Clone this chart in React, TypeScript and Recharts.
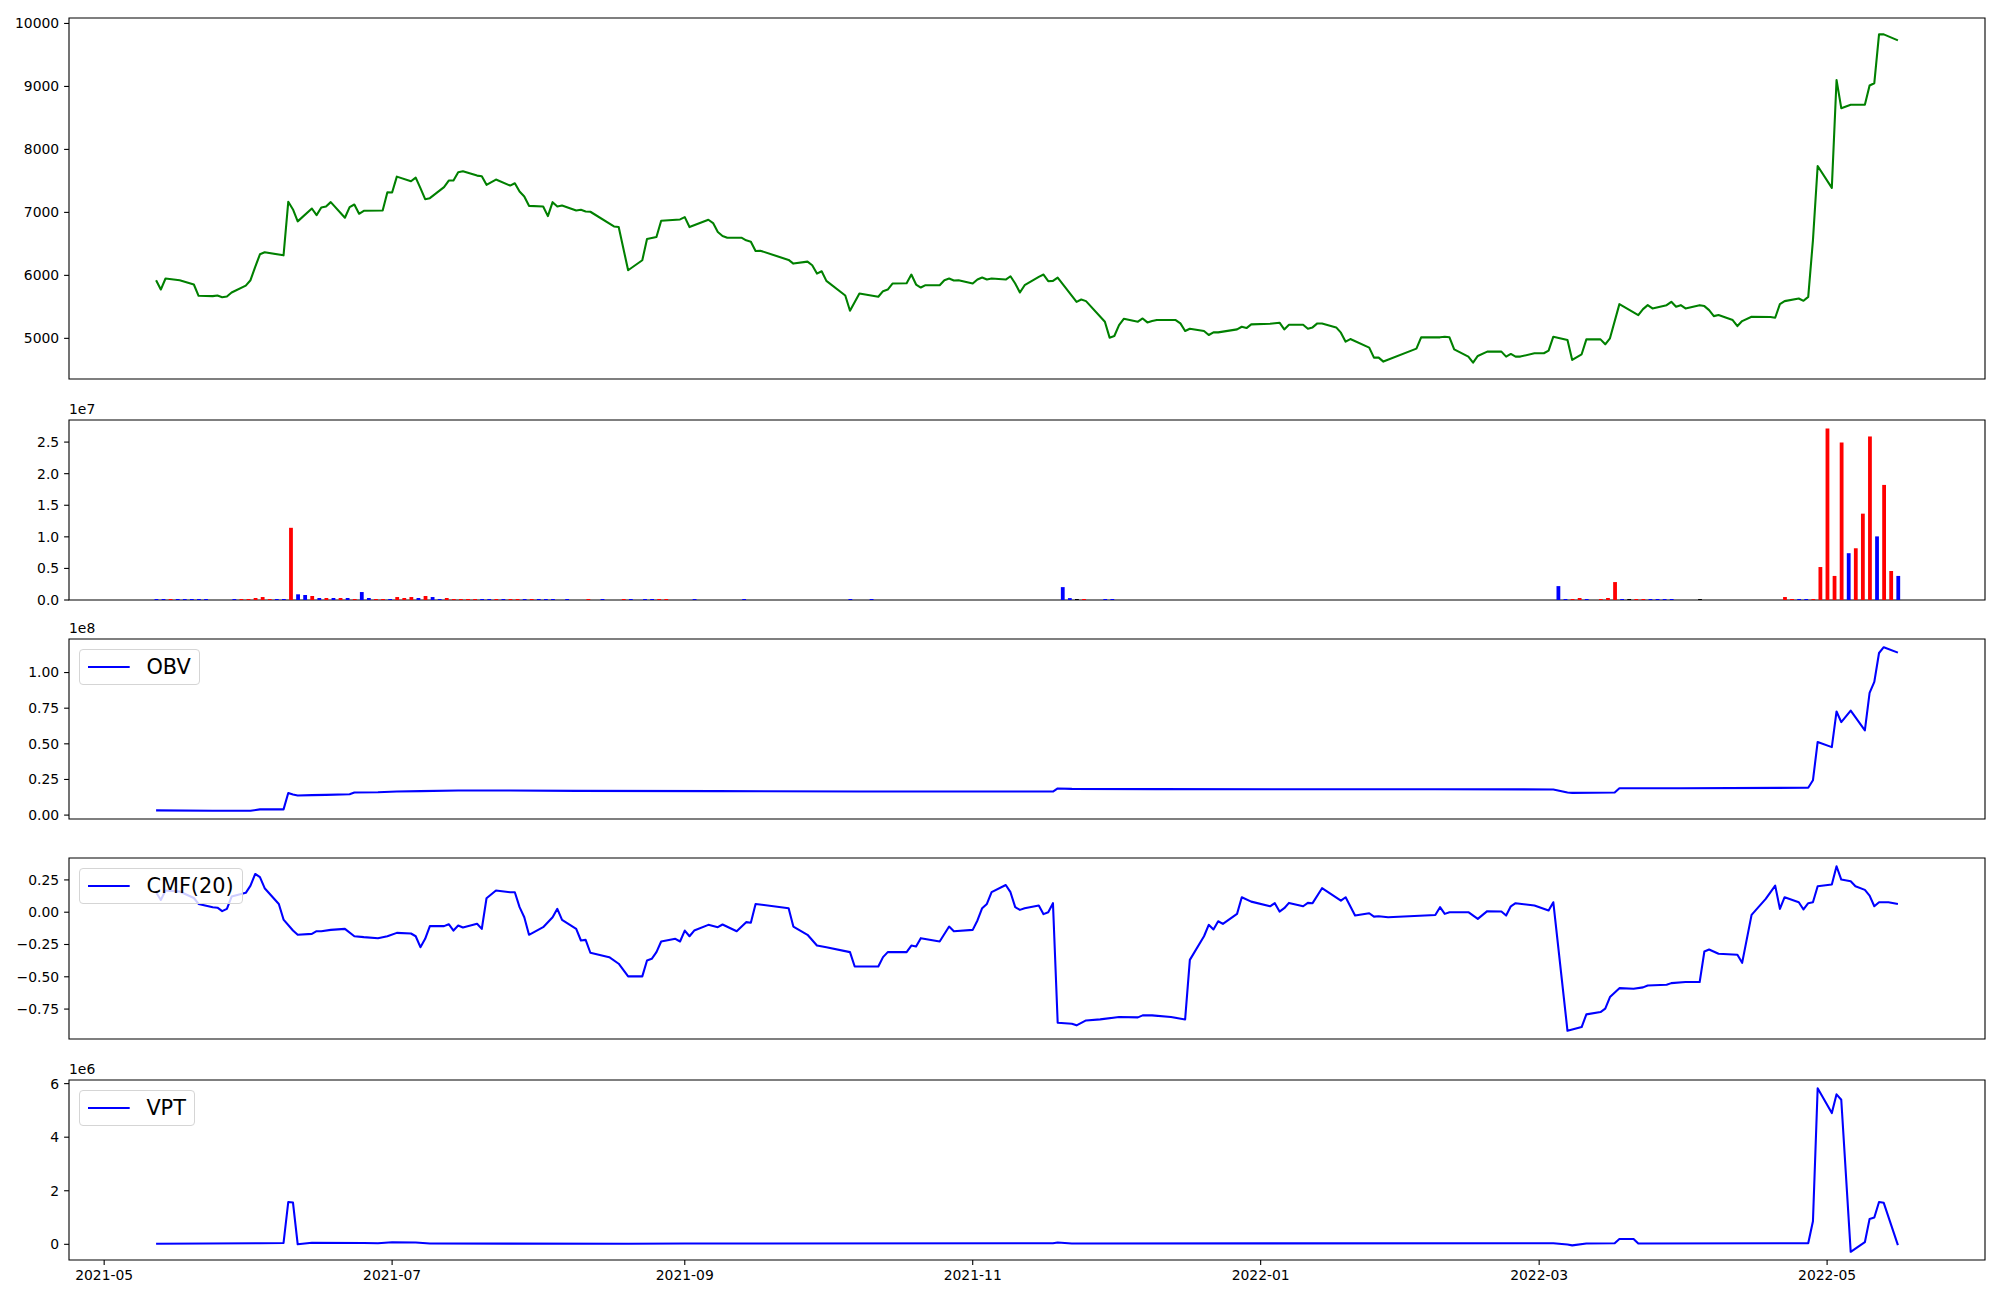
import React from 'react';
import { LineChart, Line, BarChart, Bar, Cell, XAxis, YAxis, Legend, ReferenceArea } from 'recharts';

const FONT = "'DejaVu Sans', 'Liberation Sans', sans-serif";

// ---------------- x axis ticks ----------------
const monthTickLabels = ['2021-05', '2021-07', '2021-09', '2021-11', '2022-01', '2022-03', '2022-05'];

// ---------------- price (close) ----------------
const priceDates = [
  '2021-05-12','2021-05-13','2021-05-14','2021-05-17','2021-05-20','2021-05-21','2021-05-24','2021-05-25','2021-05-26','2021-05-27','2021-05-28','2021-05-31',
  '2021-06-01','2021-06-02','2021-06-03','2021-06-04','2021-06-08','2021-06-09','2021-06-10','2021-06-11','2021-06-14','2021-06-15','2021-06-16','2021-06-17','2021-06-18','2021-06-21','2021-06-22','2021-06-23','2021-06-24','2021-06-25','2021-06-29','2021-06-30',
  '2021-07-01','2021-07-02','2021-07-05','2021-07-06','2021-07-07','2021-07-08','2021-07-09','2021-07-12','2021-07-13','2021-07-14','2021-07-15','2021-07-16','2021-07-19','2021-07-20','2021-07-21','2021-07-23','2021-07-26','2021-07-27','2021-07-28','2021-07-29','2021-07-30',
  '2021-08-02','2021-08-03','2021-08-04','2021-08-05','2021-08-06','2021-08-09','2021-08-10','2021-08-11','2021-08-12','2021-08-17','2021-08-18','2021-08-20','2021-08-23','2021-08-24','2021-08-26','2021-08-27','2021-08-31',
  '2021-09-01','2021-09-02','2021-09-06','2021-09-07','2021-09-08','2021-09-09','2021-09-10','2021-09-13','2021-09-14','2021-09-15','2021-09-16','2021-09-17','2021-09-23','2021-09-24','2021-09-27','2021-09-28','2021-09-29','2021-09-30',
  '2021-10-01','2021-10-05','2021-10-06','2021-10-08','2021-10-12','2021-10-13','2021-10-14','2021-10-15','2021-10-18','2021-10-19','2021-10-20','2021-10-21','2021-10-22','2021-10-25','2021-10-26','2021-10-27','2021-10-28','2021-10-29',
  '2021-11-01','2021-11-02','2021-11-03','2021-11-04','2021-11-05','2021-11-08','2021-11-09','2021-11-10','2021-11-11','2021-11-12','2021-11-15','2021-11-16','2021-11-17','2021-11-18','2021-11-19','2021-11-23','2021-11-24','2021-11-25','2021-11-29','2021-11-30',
  '2021-12-01','2021-12-02','2021-12-03','2021-12-06','2021-12-07','2021-12-08','2021-12-09','2021-12-10','2021-12-14','2021-12-15','2021-12-16','2021-12-17','2021-12-20','2021-12-21','2021-12-22','2021-12-23','2021-12-27','2021-12-28','2021-12-29','2021-12-30',
  '2022-01-03','2022-01-05','2022-01-06','2022-01-07','2022-01-10','2022-01-11','2022-01-12','2022-01-13','2022-01-14','2022-01-17','2022-01-18','2022-01-19','2022-01-20','2022-01-24','2022-01-25','2022-01-26','2022-01-27',
  '2022-02-03','2022-02-04','2022-02-08','2022-02-09','2022-02-10','2022-02-11','2022-02-14','2022-02-15','2022-02-16','2022-02-18','2022-02-21','2022-02-22','2022-02-23','2022-02-24','2022-02-25','2022-02-28',
  '2022-03-02','2022-03-03','2022-03-04','2022-03-07','2022-03-08','2022-03-10','2022-03-11','2022-03-14','2022-03-15','2022-03-16','2022-03-18','2022-03-22','2022-03-23','2022-03-24','2022-03-25','2022-03-28','2022-03-29','2022-03-30','2022-03-31',
  '2022-04-01','2022-04-04','2022-04-05','2022-04-06','2022-04-07','2022-04-08','2022-04-11','2022-04-12','2022-04-13','2022-04-15','2022-04-19','2022-04-20','2022-04-21','2022-04-22','2022-04-25','2022-04-26','2022-04-27','2022-04-28','2022-04-29',
  '2022-05-02','2022-05-03','2022-05-04','2022-05-06','2022-05-09','2022-05-10','2022-05-11','2022-05-12','2022-05-13','2022-05-16',
];
const priceValues = [
  5923,5775,5950,5923,5855,5675,5670,5680,5654,5665,5728,5838,
  5923,6134,6334,6366,6318,7168,7046,6857,7062,6957,7078,7094,7163,6915,7083,7125,6978,7025,7030,7321,
  7315,7568,7495,7553,7384,7210,7226,7400,7505,7505,7637,7653,7584,7574,7437,7521,7426,7463,7331,7252,7104,
  7094,6941,7162,7094,7110,7030,7041,7015,7010,6777,6767,6081,6240,6577,6609,6867,6888,
  6925,6767,6883,6830,6688,6625,6598,6598,6556,6535,6387,6392,6245,6187,6218,6160,6028,6065,
  5912,5680,5438,5712,5660,5749,5775,5870,5876,6013,5854,5807,5844,5844,5923,5949,5918,5923,
  5870,5934,5965,5934,5949,5934,5986,5870,5728,5844,5976,6013,5907,5912,5965,5580,5617,5591,5264,5011,
  5037,5211,5311,5264,5316,5253,5274,5290,5290,5237,5116,5153,5116,5053,5095,5095,5142,5184,5163,5222,
  5232,5248,5142,5216,5216,5153,5174,5237,5237,5174,5090,4947,4989,4852,4694,4694,4631,
  4837,5016,5016,5026,5016,4826,4710,4615,4720,4789,4789,4710,4752,4710,4710,4763,
  4763,4805,5026,4974,4657,4747,4984,4984,4905,5000,5543,5369,5464,5527,5475,5527,5580,5501,5527,
  5475,5527,5512,5448,5353,5369,5290,5195,5274,5343,5338,5327,5543,5591,5633,5596,5659,6556,7737,
  7389,9103,8655,8708,8708,9014,9051,9826,9826,9731,
];
const priceTicks = [5000, 6000, 7000, 8000, 9000, 10000];
const priceTickLabels = ['5000', '6000', '7000', '8000', '9000', '10000'];

// ---------------- volume ----------------
// The volume bars sit on an evenly spaced grid of sessions that runs from the first to the last date.
const volumeSlotCount = 247;
const volumeSlots = [
  0,1,2,3,4,5,6,7,
  11,12,13,14,15,16,17,18,19,20,21,
  22,23,24,25,26,27,28,29,30,31,
  32,33,34,35,36,37,38,39,40,41,
  42,43,44,45,46,47,48,49,50,51,
  52,53,54,55,56,
  58,61,63,66,67,69,70,71,72,76,83,98,101,
  128,129,130,131,134,135,
  198,199,200,201,202,204,205,206,207,208,209,210,211,212,213,214,218,
  230,231,232,233,234,235,236,237,238,239,240,241,242,243,244,245,246,
];
const volumeValues = [
  1.6e5,1.6e5,1.6e5,1.6e5,1.6e5,1.6e5,1.6e5,1.6e5,
  1.6e5,1.6e5,1.6e5,3.2e5,4.7e5,1.6e5,1.6e5,1.6e5,1.143e7,9.0e5,7.9e5,
  6.3e5,3.2e5,3.2e5,3.2e5,3.2e5,3.2e5,1.6e5,1.26e6,3.2e5,1.6e5,
  1.6e5,1.6e5,4.7e5,3.2e5,4.7e5,3.2e5,6.3e5,4.7e5,1.6e5,3.2e5,
  1.6e5,1.6e5,1.6e5,1.6e5,1.6e5,1.6e5,1.6e5,1.6e5,1.6e5,1.6e5,
  1.6e5,1.6e5,1.6e5,1.6e5,1.6e5,
  1.6e5,1.6e5,1.6e5,1.6e5,1.6e5,1.6e5,1.6e5,1.6e5,1.6e5,1.6e5,1.6e5,1.6e5,1.6e5,
  2.04e6,3.0e5,1.6e5,1.6e5,1.6e5,1.6e5,
  2.2e6,1.6e5,1.6e5,3.2e5,1.6e5,1.6e5,3.2e5,2.84e6,1.6e5,1.6e5,1.6e5,1.6e5,1.6e5,1.6e5,1.6e5,1.6e5,1.6e5,
  4.7e5,1.6e5,1.6e5,1.6e5,1.6e5,5.22e6,2.714e7,3.81e6,2.495e7,7.41e6,8.19e6,1.367e7,2.589e7,1.007e7,1.822e7,4.59e6,3.81e6,
];
// 1 = up session (red), -1 = down session (blue), 0 = unchanged (black)
const volumeDirection = [
  -1,-1,1,-1,-1,-1,-1,-1,
  -1,1,1,1,1,1,-1,-1,1,-1,-1,
  1,-1,1,-1,1,-1,1,-1,-1,1,
  1,-1,1,1,1,-1,1,-1,-1,1,
  1,1,1,1,-1,-1,1,-1,1,1,
  -1,1,-1,-1,-1,
  -1,1,-1,1,-1,-1,-1,1,1,-1,-1,-1,-1,
  -1,-1,0,1,-1,-1,
  -1,-1,1,1,-1,1,1,1,-1,0,1,1,-1,-1,-1,-1,0,
  1,1,-1,-1,1,1,1,1,1,-1,1,1,1,-1,1,1,-1,
];
const volumeTicks = [0, 5e6, 1e7, 1.5e7, 2e7, 2.5e7];
const volumeTickLabels = ['0.0', '0.5', '1.0', '1.5', '2.0', '2.5'];

// ---------------- OBV ----------------
const obvDates = [
  '2021-05-12','2021-05-24','2021-06-01','2021-06-03','2021-06-08','2021-06-09','2021-06-10','2021-06-11','2021-06-14','2021-06-17','2021-06-22','2021-06-23',
  '2021-06-28','2021-07-02','2021-07-07','2021-07-15','2021-07-26','2021-08-09','2021-09-08','2021-10-08','2021-11-18','2021-11-19','2021-11-22','2021-12-10',
  '2022-02-07','2022-03-04','2022-03-07','2022-03-08','2022-03-17','2022-03-18','2022-03-31','2022-04-27','2022-04-28','2022-04-29',
  '2022-05-02','2022-05-03','2022-05-04','2022-05-06','2022-05-09','2022-05-10','2022-05-11','2022-05-12','2022-05-13','2022-05-16',
];
const obvValues = [
  3.3e6,3.0e6,3.0e6,4.0e6,4.0e6,1.55e7,1.45e7,1.38e7,1.40e7,1.42e7,1.46e7,1.58e7,
  1.60e7,1.65e7,1.68e7,1.72e7,1.72e7,1.70e7,1.68e7,1.65e7,1.65e7,1.87e7,1.84e7,1.82e7,
  1.81e7,1.80e7,1.58e7,1.56e7,1.58e7,1.88e7,1.88e7,1.92e7,2.44e7,5.13e7,
  4.77e7,7.27e7,6.52e7,7.33e7,5.95e7,8.58e7,9.35e7,1.137e8,1.178e8,1.140e8,
];
const obvTicks = [0, 2.5e7, 5e7, 7.5e7, 1e8];
const obvTickLabels = ['0.00', '0.25', '0.50', '0.75', '1.00'];

// ---------------- CMF(20) ----------------
const cmfDates = [
  '2021-05-12','2021-05-13','2021-05-14','2021-05-17','2021-05-20','2021-05-21','2021-05-24','2021-05-25','2021-05-26','2021-05-27','2021-05-28','2021-05-31',
  '2021-06-01','2021-06-02','2021-06-03','2021-06-04','2021-06-07','2021-06-08','2021-06-10','2021-06-11','2021-06-14','2021-06-15','2021-06-16','2021-06-18','2021-06-21','2021-06-23','2021-06-25','2021-06-28','2021-06-30',
  '2021-07-02','2021-07-05','2021-07-06','2021-07-07','2021-07-08','2021-07-09','2021-07-12','2021-07-13','2021-07-14','2021-07-15','2021-07-16','2021-07-19','2021-07-20','2021-07-21','2021-07-23','2021-07-26','2021-07-27','2021-07-28','2021-07-29','2021-07-30',
  '2021-08-02','2021-08-04','2021-08-05','2021-08-06','2021-08-09','2021-08-10','2021-08-11','2021-08-12','2021-08-16','2021-08-18','2021-08-20','2021-08-23','2021-08-24','2021-08-25','2021-08-26','2021-08-27','2021-08-30','2021-08-31',
  '2021-09-01','2021-09-02','2021-09-03','2021-09-06','2021-09-08','2021-09-09','2021-09-12','2021-09-14','2021-09-15','2021-09-16','2021-09-23','2021-09-24','2021-09-27','2021-09-29',
  '2021-10-01','2021-10-06','2021-10-07','2021-10-12','2021-10-13','2021-10-14','2021-10-18','2021-10-19','2021-10-20','2021-10-21','2021-10-25','2021-10-27','2021-10-28',
  '2021-11-01','2021-11-02','2021-11-03','2021-11-04','2021-11-05','2021-11-08','2021-11-09','2021-11-10','2021-11-11','2021-11-12','2021-11-15','2021-11-16','2021-11-17','2021-11-18','2021-11-19','2021-11-22','2021-11-23','2021-11-25','2021-11-28',
  '2021-12-02','2021-12-06','2021-12-07','2021-12-09','2021-12-13','2021-12-16','2021-12-17','2021-12-20','2021-12-21','2021-12-22','2021-12-23','2021-12-24','2021-12-27','2021-12-28','2021-12-30',
  '2022-01-03','2022-01-04','2022-01-05','2022-01-06','2022-01-07','2022-01-10','2022-01-11','2022-01-12','2022-01-14','2022-01-18','2022-01-19','2022-01-21','2022-01-24','2022-01-25','2022-01-26','2022-01-28',
  '2022-02-07','2022-02-08','2022-02-09','2022-02-10','2022-02-14','2022-02-16','2022-02-18','2022-02-21','2022-02-22','2022-02-23','2022-02-24','2022-02-28',
  '2022-03-03','2022-03-04','2022-03-07','2022-03-10','2022-03-11','2022-03-14','2022-03-15','2022-03-16','2022-03-18','2022-03-21','2022-03-23','2022-03-24','2022-03-28','2022-03-29',
  '2022-04-01','2022-04-04','2022-04-05','2022-04-06','2022-04-08','2022-04-12','2022-04-13','2022-04-15','2022-04-18','2022-04-20','2022-04-21','2022-04-22','2022-04-25','2022-04-26','2022-04-27','2022-04-28','2022-04-29',
  '2022-05-02','2022-05-03','2022-05-04','2022-05-06','2022-05-07','2022-05-09','2022-05-10','2022-05-11','2022-05-12','2022-05-14','2022-05-16',
];
const cmfValues = [
  0.155,0.095,0.168,0.160,0.110,0.064,0.039,0.035,0.008,0.026,0.121,0.150,
  0.206,0.296,0.271,0.186,0.064,-0.057,-0.142,-0.175,-0.168,-0.147,-0.147,-0.137,-0.129,-0.186,-0.193,-0.201,-0.186,
  -0.160,-0.165,-0.186,-0.271,-0.206,-0.108,-0.108,-0.093,-0.142,-0.103,-0.119,-0.090,-0.129,0.108,0.168,0.155,0.155,0.039,-0.039,-0.175,
  -0.116,-0.039,0.026,-0.059,-0.129,-0.219,-0.214,-0.314,-0.348,-0.399,-0.497,-0.497,-0.374,-0.361,-0.309,-0.227,-0.206,-0.227,
  -0.142,-0.186,-0.142,-0.098,-0.116,-0.095,-0.147,-0.077,-0.082,0.064,0.031,-0.111,-0.175,-0.258,
  -0.271,-0.309,-0.420,-0.420,-0.348,-0.309,-0.309,-0.258,-0.265,-0.201,-0.227,-0.111,-0.147,
  -0.137,-0.064,0.031,0.064,0.155,0.211,0.155,0.039,0.018,0.030,0.052,-0.015,0.000,0.070,-0.856,-0.863,-0.876,-0.838,-0.830,
  -0.812,-0.814,-0.799,-0.799,-0.812,-0.830,-0.369,-0.186,-0.098,-0.134,-0.070,-0.090,-0.013,0.116,0.082,
  0.046,0.070,0.005,0.031,0.072,0.046,0.072,0.070,0.186,0.090,0.116,-0.026,-0.008,-0.034,-0.031,-0.039,
  -0.021,0.039,-0.013,0.000,0.000,-0.052,0.008,0.005,-0.026,0.046,0.070,0.052,
  0.013,0.077,-0.918,-0.889,-0.791,-0.773,-0.747,-0.657,-0.588,-0.593,-0.582,-0.567,-0.562,-0.549,
  -0.541,-0.541,-0.304,-0.289,-0.322,-0.330,-0.392,-0.021,0.103,0.206,0.026,0.116,0.077,0.021,0.070,0.077,0.201,
  0.214,0.356,0.253,0.240,0.201,0.173,0.129,0.046,0.077,0.077,0.064,
];
const cmfTicks = [-0.75, -0.5, -0.25, 0, 0.25];
const cmfTickLabels = ['\u22120.75', '\u22120.50', '\u22120.25', '0.00', '0.25'];

// ---------------- VPT ----------------
const vptDates = [
  '2021-05-12','2021-06-03','2021-06-08','2021-06-09','2021-06-10','2021-06-11','2021-06-14','2021-06-25','2021-06-28','2021-07-01','2021-07-06','2021-07-09',
  '2021-08-20','2021-09-01','2021-11-18','2021-11-19','2021-11-22','2022-03-04','2022-03-07','2022-03-08','2022-03-11','2022-03-17','2022-03-18','2022-03-21','2022-03-22',
  '2022-04-27','2022-04-28','2022-04-29','2022-05-02','2022-05-03','2022-05-04','2022-05-06','2022-05-09','2022-05-10','2022-05-11','2022-05-12','2022-05-13','2022-05-16',
];
const vptValues = [
  2e4,4e4,5e4,1.58e6,1.56e6,0,6e4,5e4,4e4,8e4,7e4,3e4,
  2e4,3e4,4e4,7e4,3e4,4e4,-1e4,-4e4,3e4,4e4,2.0e5,2.0e5,3e4,
  4e4,8.6e5,5.83e6,4.90e6,5.60e6,5.40e6,-2.8e5,8e4,9.5e5,1.0e6,1.58e6,1.55e6,-3e4,
];
const vptTicks = [0, 2e6, 4e6, 6e6];
const vptTickLabels = ['0', '2', '4', '6'];

// ---------------- helpers ----------------
const toTs = (s: string) => Date.parse(s + 'T00:00:00Z');
const series = (dates: string[], values: number[]) => dates.map((d, i) => ({ t: toTs(d), v: values[i] }));
const padded = (vals: number[]): [number, number] => {
  const lo = Math.min(...vals);
  const hi = Math.max(...vals);
  const r = hi - lo;
  return [lo - 0.05 * r, hi + 0.05 * r];
};
const fmt = (ticks: number[], labels: string[]) => (v: number) => {
  const i = ticks.indexOf(v);
  return i >= 0 ? labels[i] : '';
};

const firstT = toTs(priceDates[0]);
const lastT = toTs(priceDates[priceDates.length - 1]);
const slotStep = (lastT - firstT) / (volumeSlotCount - 1);

const priceData = series(priceDates, priceValues);
const volumeData = volumeSlots.map((s, i) => ({ t: firstT + s * slotStep, v: volumeValues[i], dir: volumeDirection[i] }));
const obvData = series(obvDates, obvValues);
const cmfData = series(cmfDates, cmfValues);
const vptData = series(vptDates, vptValues);

const X_DOMAIN = padded([firstT, lastT]);
const xTicks = monthTickLabels.map((m) => toTs(m + '-01'));

const priceDomain = padded(priceValues);
const volumeDomain: [number, number] = [0, Math.max(...volumeValues) * 1.05];
const obvDomain = padded(obvValues);
const cmfDomain = padded(cmfValues);
const vptDomain = padded(vptValues);

const dirColor = (d: number) => (d > 0 ? '#ff0000' : d < 0 ? '#0000ff' : '#000000');

const tickStyle = { fontSize: 13.9, fontFamily: FONT, fill: '#000' };

const offsetLabel = (text: string) => (props: any) => {
  const vb = props.viewBox || { x: 0, y: 0, width: 69 };
  return (
    <text x={vb.x + vb.width} y={vb.y - 6} fontSize={13.9} fontFamily={FONT} fill="#000" textAnchor="start">
      {text}
    </text>
  );
};

const LegendBox = ({ label }: { label: string }) => (
  <div
    style={{
      boxSizing: 'border-box',
      height: 36,
      padding: '0 8px 0 8px',
      border: '1px solid #d5d5d5',
      borderRadius: 4,
      background: 'rgba(255,255,255,0.8)',
      display: 'flex',
      alignItems: 'center',
      fontFamily: FONT,
      fontSize: 20.83,
      color: '#000',
      whiteSpace: 'nowrap',
    }}
  >
    <svg width={41.7} height={10} style={{ display: 'block' }}>
      <line x1={0} x2={41.7} y1={5} y2={5} stroke="#0000ff" strokeWidth={2.08} />
    </svg>
    <span style={{ marginLeft: 16.7, lineHeight: '36px' }}>{label}</span>
  </div>
);

const W = 2000;
const MR = 15;
const YW = 69;

function yAxisProps(domain: [number, number], ticks: number[], labels: string[]) {
  return {
    type: 'number' as const,
    domain,
    allowDataOverflow: true,
    ticks,
    interval: 0 as const,
    tickFormatter: fmt(ticks, labels),
    width: YW,
    axisLine: false,
    tickLine: { stroke: '#000', strokeWidth: 1.1 },
    tickSize: 4.9,
    tickMargin: 4.9,
    tick: tickStyle,
  };
}

export default function App() {
  return (
    <div style={{ position: 'absolute', left: 0, top: 0, width: 2000, height: 1300, background: '#fff', overflow: 'hidden' }}>
      {/* Price */}
      <div style={{ position: 'absolute', left: 0, top: 0 }}>
        <LineChart width={W} height={400} data={priceData} margin={{ top: 18, right: MR, bottom: 21, left: 0 }}>
          <XAxis dataKey="t" type="number" domain={X_DOMAIN} allowDataOverflow hide />
          <YAxis {...yAxisProps(priceDomain, priceTicks, priceTickLabels)} />
          <ReferenceArea x1={X_DOMAIN[0]} x2={X_DOMAIN[1]} y1={priceDomain[0]} y2={priceDomain[1]} fill="none" stroke="#000" strokeWidth={1.1} ifOverflow="visible" />
          <Line dataKey="v" type="linear" stroke="#008000" strokeWidth={2.08} dot={false} isAnimationActive={false} strokeLinejoin="round" />
        </LineChart>
      </div>

      {/* Volume */}
      <div style={{ position: 'absolute', left: 0, top: 400 }}>
        <BarChart width={W} height={210} data={volumeData} margin={{ top: 20, right: MR, bottom: 10, left: 0 }}>
          <XAxis dataKey="t" type="number" domain={X_DOMAIN} allowDataOverflow hide />
          <YAxis {...yAxisProps(volumeDomain, volumeTicks, volumeTickLabels)} label={offsetLabel('1e7')} />
          <ReferenceArea x1={X_DOMAIN[0]} x2={X_DOMAIN[1]} y1={volumeDomain[0]} y2={volumeDomain[1]} fill="none" stroke="#000" strokeWidth={1.1} ifOverflow="visible" />
          <Bar dataKey="v" barSize={3.8} isAnimationActive={false}>
            {volumeData.map((d, i) => (
              <Cell key={i} fill={dirColor(d.dir)} />
            ))}
          </Bar>
        </BarChart>
      </div>

      {/* OBV */}
      <div style={{ position: 'absolute', left: 0, top: 615 }}>
        <LineChart width={W} height={215} data={obvData} margin={{ top: 24, right: MR, bottom: 11, left: 0 }}>
          <XAxis dataKey="t" type="number" domain={X_DOMAIN} allowDataOverflow hide />
          <YAxis {...yAxisProps(obvDomain, obvTicks, obvTickLabels)} label={offsetLabel('1e8')} />
          <ReferenceArea x1={X_DOMAIN[0]} x2={X_DOMAIN[1]} y1={obvDomain[0]} y2={obvDomain[1]} fill="none" stroke="#000" strokeWidth={1.1} ifOverflow="visible" />
          <Line dataKey="v" name="OBV" type="linear" stroke="#0000ff" strokeWidth={2.08} dot={false} isAnimationActive={false} strokeLinejoin="round" />
          <Legend layout="horizontal" verticalAlign="middle" align="center" wrapperStyle={{ left: 79, top: 34, width: 'auto', height: 'auto' }} content={() => <LegendBox label="OBV" />} />
        </LineChart>
      </div>

      {/* CMF */}
      <div style={{ position: 'absolute', left: 0, top: 835 }}>
        <LineChart width={W} height={215} data={cmfData} margin={{ top: 23, right: MR, bottom: 11, left: 0 }}>
          <XAxis dataKey="t" type="number" domain={X_DOMAIN} allowDataOverflow hide />
          <YAxis {...yAxisProps(cmfDomain, cmfTicks, cmfTickLabels)} />
          <ReferenceArea x1={X_DOMAIN[0]} x2={X_DOMAIN[1]} y1={cmfDomain[0]} y2={cmfDomain[1]} fill="none" stroke="#000" strokeWidth={1.1} ifOverflow="visible" />
          <Line dataKey="v" name="CMF(20)" type="linear" stroke="#0000ff" strokeWidth={2.08} dot={false} isAnimationActive={false} strokeLinejoin="round" />
          <Legend layout="horizontal" verticalAlign="middle" align="center" wrapperStyle={{ left: 79, top: 33, width: 'auto', height: 'auto' }} content={() => <LegendBox label="CMF(20)" />} />
        </LineChart>
      </div>

      {/* VPT */}
      <div style={{ position: 'absolute', left: 0, top: 1055 }}>
        <LineChart width={W} height={245} data={vptData} margin={{ top: 25, right: MR, bottom: 10, left: 0 }}>
          <XAxis
            dataKey="t"
            type="number"
            domain={X_DOMAIN}
            allowDataOverflow
            ticks={xTicks}
            interval={0}
            tickFormatter={fmt(xTicks, monthTickLabels)}
            height={30}
            axisLine={false}
            tickLine={{ stroke: '#000', strokeWidth: 1.1 }}
            tickSize={4.9}
            tickMargin={4.9}
            tick={tickStyle}
          />
          <YAxis {...yAxisProps(vptDomain, vptTicks, vptTickLabels)} label={offsetLabel('1e6')} />
          <ReferenceArea x1={X_DOMAIN[0]} x2={X_DOMAIN[1]} y1={vptDomain[0]} y2={vptDomain[1]} fill="none" stroke="#000" strokeWidth={1.1} ifOverflow="visible" />
          <Line dataKey="v" name="VPT" type="linear" stroke="#0000ff" strokeWidth={2.08} dot={false} isAnimationActive={false} strokeLinejoin="round" />
          <Legend layout="horizontal" verticalAlign="middle" align="center" wrapperStyle={{ left: 79, top: 35, width: 'auto', height: 'auto' }} content={() => <LegendBox label="VPT" />} />
        </LineChart>
      </div>
    </div>
  );
}
